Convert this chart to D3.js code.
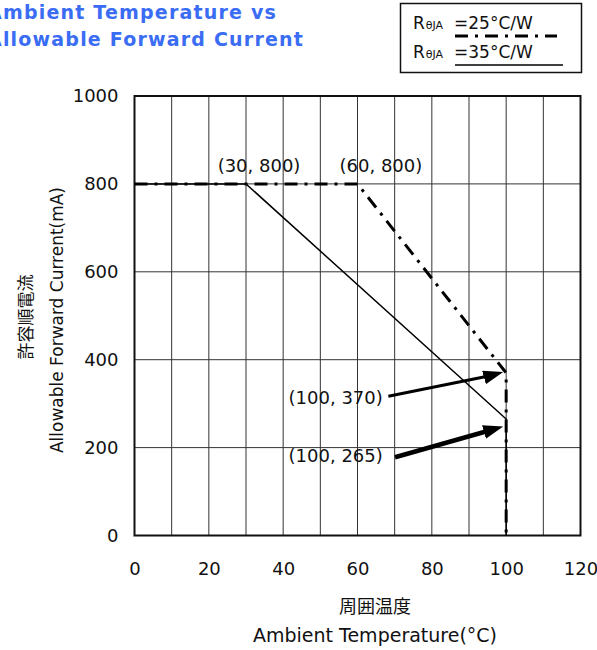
<!DOCTYPE html>
<html>
<head>
<meta charset="utf-8">
<script src="https://cdn.jsdelivr.net/npm/d3@7/dist/d3.min.js"></script>
<style>
  body { margin: 0; background: #fff; }
  svg { display: block; }
</style>
</head>
<body>
<div id="chart"></div>
<script>
'use strict';

// data
var xTicks = [0, 20, 40, 60, 80, 100, 120],
  yTicks = [0, 200, 400, 600, 800, 1000],
  xGrid = [10, 20, 30, 40, 50, 60, 70, 80, 90, 100, 110],
  yGrid = [200, 400, 600, 800];

var curve35 = [[0, 800], [30, 800], [100, 265], [100, 0]],   // R = 35 C/W, solid
  curve25 = [[0, 800], [60, 800], [100, 370], [100, 0]];     // R = 25 C/W, dash-dot

var pointLabels = [
  { x: 33.5, y: 827, text: '(30, 800)' },
  { x: 66.3, y: 827, text: '(60, 800)' }
];

var arrows = [
  { text: '(100, 370)', lx: 66.8, ly: 300, x0: 68.3, y0: 317, x1: 99.2, y1: 372, w: 3 },
  { text: '(100, 265)', lx: 66.8, ly: 168, x0: 70.1, y0: 178, x1: 99.2, y1: 248, w: 4.5 }
];

var width = 597,
  height = 650;

var svg = d3.select('#chart')
  .append('svg')
  .attr('width', width)
  .attr('height', height);

var font = '"DejaVu Sans", Verdana, sans-serif',
  cjk = '"Noto Sans CJK JP", sans-serif';

var x = d3.scaleLinear().domain([0, 120]).range([134.5, 580.5]),
  y = d3.scaleLinear().domain([0, 1000]).range([535.5, 96]);

// title (clipped at the left edge like the original)
svg.append('text')
  .attr('x', -13)
  .attr('y', 19)
  .attr('font-family', font)
  .attr('font-weight', 'bold')
  .attr('font-size', '19px')
  .attr('letter-spacing', '1.2px')
  .attr('fill', '#3a6cf4')
  .text('Ambient Temperature vs');

svg.append('text')
  .attr('x', -13)
  .attr('y', 46)
  .attr('font-family', font)
  .attr('font-weight', 'bold')
  .attr('font-size', '19px')
  .attr('letter-spacing', '1.2px')
  .attr('fill', '#3a6cf4')
  .text('Allowable Forward Current');

// grid
var grid = svg.append('g')
  .attr('stroke', '#333')
  .attr('stroke-width', 1);

grid.selectAll('.vg')
  .data(xGrid)
  .enter()
  .append('line')
  .attr('x1', function(d) { return x(d); })
  .attr('x2', function(d) { return x(d); })
  .attr('y1', y(1000))
  .attr('y2', y(0));

grid.selectAll('.hg')
  .data(yGrid)
  .enter()
  .append('line')
  .attr('x1', x(0))
  .attr('x2', x(120))
  .attr('y1', function(d) { return y(d); })
  .attr('y2', function(d) { return y(d); });

// axes: labels only, frame drawn below
var xAxis = svg.append('g')
  .attr('transform', 'translate(0,' + y(0) + ')')
  .call(d3.axisBottom(x).tickValues(xTicks).tickSize(0).tickPadding(27));
var yAxis = svg.append('g')
  .attr('transform', 'translate(' + x(0) + ',0)')
  .call(d3.axisLeft(y).tickValues(yTicks).tickFormat(d3.format('d')).tickSize(0).tickPadding(16));

[xAxis, yAxis].forEach(function(a) {
  a.select('.domain').remove();
  a.selectAll('text')
    .attr('font-family', font)
    .attr('font-size', '18px')
    .attr('fill', '#111');
});

svg.append('rect')
  .attr('x', x(0))
  .attr('y', y(1000))
  .attr('width', x(120) - x(0))
  .attr('height', y(0) - y(1000))
  .attr('fill', 'none')
  .attr('stroke', '#111')
  .attr('stroke-width', 2);

// curves
var line = d3.line()
  .x(function(d) { return x(d[0]); })
  .y(function(d) { return y(d[1]); });

svg.append('path')
  .datum(curve35)
  .attr('d', line)
  .attr('fill', 'none')
  .attr('stroke', '#000')
  .attr('stroke-width', 1.5);

svg.append('path')
  .datum(curve25)
  .attr('d', line)
  .attr('fill', 'none')
  .attr('stroke', '#000')
  .attr('stroke-width', 3)
  .attr('stroke-dasharray', '13,7,3,7');

// point labels
svg.selectAll('.plab')
  .data(pointLabels)
  .enter()
  .append('text')
  .attr('x', function(d) { return x(d.x); })
  .attr('y', function(d) { return y(d.y); })
  .attr('text-anchor', 'middle')
  .attr('font-family', font)
  .attr('font-size', '18px')
  .attr('fill', '#111')
  .text(function(d) { return d.text; });

// arrow annotations
var defs = svg.append('defs');
defs.append('marker')
  .attr('id', 'head')
  .attr('viewBox', '0 -7 20 14')
  .attr('refX', 20)
  .attr('markerWidth', 20)
  .attr('markerHeight', 14)
  .attr('markerUnits', 'userSpaceOnUse')
  .attr('orient', 'auto')
  .append('path')
  .attr('d', 'M0,-7L20,0L0,7z')
  .attr('fill', '#000');

var ann = svg.selectAll('.ann')
  .data(arrows)
  .enter()
  .append('g');

ann.append('line')
  .attr('x1', function(d) { return x(d.x0); })
  .attr('y1', function(d) { return y(d.y0); })
  .attr('x2', function(d) { return x(d.x1) - 12; })
  .attr('y2', function(d) { return y(d.y1) + 3.5; })
  .attr('stroke', '#000')
  .attr('stroke-width', function(d) { return d.w; });

ann.append('line')
  .attr('x1', function(d) { return x(d.x1) - 14; })
  .attr('y1', function(d) { return y(d.y1) + 4; })
  .attr('x2', function(d) { return x(d.x1); })
  .attr('y2', function(d) { return y(d.y1); })
  .attr('stroke', 'none')
  .attr('marker-end', 'url(#head)');

ann.append('text')
  .attr('x', function(d) { return x(d.lx); })
  .attr('y', function(d) { return y(d.ly); })
  .attr('text-anchor', 'end')
  .attr('font-family', font)
  .attr('font-size', '18px')
  .attr('fill', '#111')
  .text(function(d) { return d.text; });

// axis titles
svg.append('text')
  .attr('x', 375)
  .attr('y', 613)
  .attr('text-anchor', 'middle')
  .attr('font-family', cjk)
  .attr('font-size', '18px')
  .attr('fill', '#111')
  .text('周囲温度');

svg.append('text')
  .attr('x', 375)
  .attr('y', 642)
  .attr('text-anchor', 'middle')
  .attr('font-family', font)
  .attr('font-size', '19px')
  .attr('fill', '#111')
  .text('Ambient Temperature(°C)');

svg.append('text')
  .attr('transform', 'translate(32,317) rotate(-90)')
  .attr('text-anchor', 'middle')
  .attr('font-family', cjk)
  .attr('font-size', '17px')
  .attr('fill', '#111')
  .text('許容順電流');

svg.append('text')
  .attr('transform', 'translate(63,320) rotate(-90)')
  .attr('text-anchor', 'middle')
  .attr('font-family', font)
  .attr('font-size', '18px')
  .attr('textLength', 266)
  .attr('lengthAdjust', 'spacingAndGlyphs')
  .attr('fill', '#111')
  .text('Allowable Forward Current(mA)');

// legend
var legend = svg.append('g');
legend.append('rect')
  .attr('x', 400.5)
  .attr('y', 3.5)
  .attr('width', 181)
  .attr('height', 69)
  .attr('fill', '#fff')
  .attr('stroke', '#111')
  .attr('stroke-width', 1.5);

var legendRows = [
  { label: '=25°C/W', y: 29, dash: '13,7,3,7', w: 3, end: 557 },
  { label: '=35°C/W', y: 58, dash: null, w: 1.5, end: 563 }
];

var row = legend.selectAll('.row')
  .data(legendRows)
  .enter()
  .append('g');

var lt = row.append('text')
  .attr('x', 413)
  .attr('y', function(d) { return d.y; })
  .attr('font-family', font)
  .attr('font-size', '17px')
  .attr('fill', '#111');
lt.append('tspan').text('R');
lt.append('tspan').attr('dx', 1).attr('font-size', '11px').text('θJA');
lt.append('tspan').attr('x', 454).text(function(d) { return d.label; });

row.append('line')
  .attr('x1', 455)
  .attr('x2', function(d) { return d.end; })
  .attr('y1', function(d) { return d.y + 7; })
  .attr('y2', function(d) { return d.y + 7; })
  .attr('stroke', '#000')
  .attr('stroke-width', function(d) { return d.w; })
  .attr('stroke-dasharray', function(d) { return d.dash; });
</script>
</body>
</html>
